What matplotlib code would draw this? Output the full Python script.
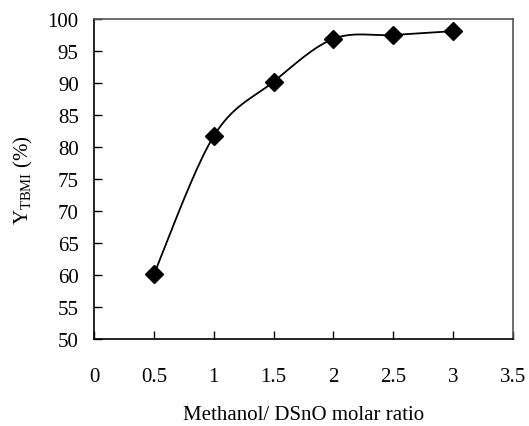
import numpy as np
import matplotlib
matplotlib.use('Agg')
import matplotlib.pyplot as plt

# data
ratio = [0.5, 1.0, 1.5, 2.0, 2.5, 3.0]
yield_tbmi = [60.1, 81.7, 90.2, 96.9, 97.5, 98.1]
x_ticks = [0, 0.5, 1, 1.5, 2, 2.5, 3, 3.5]
y_ticks = [50, 55, 60, 65, 70, 75, 80, 85, 90, 95, 100]


def smooth(xs, ys, n=40):
    # Excel-style smoothed line (Catmull-Rom / Bezier with 1/6 tension)
    xs = np.asarray(xs, float)
    ys = np.asarray(ys, float)
    px = np.concatenate([[xs[0]], xs, [xs[-1]]])
    py = np.concatenate([[ys[0]], ys, [ys[-1]]])
    outx, outy = [], []
    t = np.linspace(0, 1, n)
    for i in range(1, len(px) - 2):
        p0 = np.array([px[i], py[i]])
        p3 = np.array([px[i + 1], py[i + 1]])
        c1 = p0 + (np.array([px[i + 1], py[i + 1]]) - np.array([px[i - 1], py[i - 1]])) / 6
        c2 = p3 - (np.array([px[i + 2], py[i + 2]]) - np.array([px[i], py[i]])) / 6
        b = ((1 - t) ** 3)[:, None] * p0 + (3 * (1 - t) ** 2 * t)[:, None] * c1 \
            + (3 * (1 - t) * t ** 2)[:, None] * c2 + (t ** 3)[:, None] * p3
        outx.extend(b[:, 0])
        outy.extend(b[:, 1])
    return outx, outy


plt.rcParams['font.family'] = 'Liberation Serif'
plt.rcParams['mathtext.fontset'] = 'custom'
plt.rcParams['mathtext.rm'] = 'Liberation Serif'

fig = plt.figure(figsize=(5.29, 4.27), dpi=100)
ax = fig.add_axes([0.1777, 0.2037, 0.7921, 0.7495])

sx, sy = smooth(ratio, yield_tbmi)
ax.plot(sx, sy, color='black', lw=1.3)
ax.plot(ratio, yield_tbmi, linestyle='none', marker='D', color='black', markersize=9)

ax.set_xlim(0, 3.5)
ax.set_ylim(50, 100)
ax.set_xticks(x_ticks)
ax.set_xticklabels(['0', '0.5', '1', '1.5', '2', '2.5', '3', '3.5'])
ax.set_yticks(y_ticks)
ax.tick_params(direction='in', labelsize=15, length=6, width=1, pad=11)
ax.tick_params(axis='x', pad=20)
for s in ax.spines.values():
    s.set_linewidth(1.2)
ax.spines['top'].set_color('#555555')
ax.spines['right'].set_color('#555555')

ax.set_xlabel('Methanol/ DSnO molar ratio', fontsize=15, labelpad=14)
ax.set_ylabel(r'Y$_{\mathrm{TBMI}}$ (%)', fontsize=15, labelpad=9)

fig.savefig('out.png', dpi=100)
